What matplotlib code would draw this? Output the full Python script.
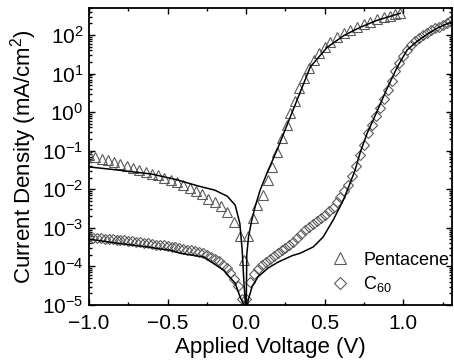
import matplotlib
matplotlib.use("Agg")
import matplotlib.pyplot as plt
from matplotlib.ticker import MultipleLocator, LogLocator, NullFormatter

plt.rcParams['font.family'] = ['Liberation Sans', 'DejaVu Sans']
plt.rcParams['mathtext.fontset'] = 'custom'
plt.rcParams['mathtext.rm'] = 'Liberation Sans'
plt.rcParams['mathtext.it'] = 'Liberation Sans:italic'
plt.rcParams['mathtext.bf'] = 'Liberation Sans:bold'

# pentacene, measured (triangles)
v_pen = [-1.00, -0.96, -0.92, -0.88, -0.84, -0.80, -0.76, -0.72, -0.68, -0.64,
         -0.60, -0.56, -0.52, -0.48, -0.44, -0.40, -0.36, -0.32, -0.28, -0.24,
         -0.20, -0.16, -0.12, -0.08, -0.04, -0.015,
         0.01, 0.045, 0.07, 0.108, 0.14, 0.166, 0.197, 0.229, 0.261, 0.28,
         0.312, 0.338, 0.369, 0.40, 0.433, 0.465, 0.503, 0.535, 0.58, 0.624,
         0.662, 0.707, 0.752, 0.79, 0.834, 0.879, 0.917, 0.949, 0.98]
j_pen = [7.7e-2, 7.0e-2, 6.2e-2, 5.6e-2, 5.0e-2, 4.5e-2, 4.0e-2, 3.6e-2, 3.2e-2, 2.8e-2,
         2.55e-2, 2.3e-2, 2.0e-2, 1.7e-2, 1.5e-2, 1.27e-2, 1.1e-2, 9.1e-3, 7.4e-3, 5.7e-3,
         4.7e-3, 3.6e-3, 2.5e-3, 1.4e-3, 6.2e-4, 1.5e-4,
         6.1e-4, 1.8e-3, 3.9e-3, 7.1e-3, 1.7e-2, 3.8e-2, 9.1e-2, 0.21, 0.46, 0.93,
         2.0, 4.2, 7.6, 13.8, 22, 34, 48, 65, 87, 111,
         133, 160, 190, 214, 256, 288, 307, 347, 365]

# pentacene, fit (line)
v_pen_fit = [-1.00, -0.80, -0.60, -0.45, -0.30, -0.20, -0.12, -0.07, -0.04, -0.025,
             -0.015, -0.005, 0.0, 0.004, 0.015, 0.036, 0.057, 0.089, 0.14, 0.197,
             0.306, 0.408, 0.516, 0.624, 0.726, 0.834, 0.98]
j_pen_fit = [3.8e-2, 3.1e-2, 2.47e-2, 1.8e-2, 1.2e-2, 9.5e-3, 6.6e-3, 3.9e-3, 1.3e-3, 2.6e-4,
             4.4e-5, 1.1e-5, 5e-6, 2.0e-4, 5.8e-4, 1.6e-3, 3.5e-3, 9.5e-3, 3.1e-2, 0.105,
             1.35, 14.8, 48, 98, 158, 240, 365]

# C60, measured (diamonds)
v_c60 = [-1.000, -0.975, -0.950, -0.925, -0.900, -0.875, -0.850, -0.825, -0.800, -0.775,
         -0.750, -0.725, -0.700, -0.675, -0.650, -0.625, -0.600, -0.575, -0.550, -0.525,
         -0.500, -0.475, -0.450, -0.425, -0.400, -0.375, -0.350, -0.325, -0.300, -0.275,
         -0.250, -0.225, -0.200, -0.175, -0.150, -0.125, -0.100, -0.075, -0.050, -0.025,
         0.000, 0.025, 0.050, 0.075, 0.100, 0.125, 0.150, 0.175, 0.200, 0.225,
         0.250, 0.275, 0.300, 0.325, 0.350, 0.375, 0.400, 0.425, 0.450, 0.475,
         0.500, 0.525, 0.550, 0.575, 0.600, 0.625, 0.650, 0.675, 0.700, 0.725,
         0.750, 0.775, 0.800, 0.825, 0.850, 0.875, 0.900, 0.925, 0.950, 0.975,
         1.000, 1.025, 1.050, 1.075, 1.100, 1.125, 1.150, 1.175, 1.200, 1.225,
         1.250, 1.275, 1.300]
j_c60 = [5.8e-4, 5.6e-4, 5.5e-4, 5.4e-4, 5.2e-4, 5.1e-4, 5.0e-4, 4.9e-4, 4.8e-4, 4.7e-4,
         4.6e-4, 4.5e-4, 4.4e-4, 4.3e-4, 4.1e-4, 4.0e-4, 3.85e-4, 3.7e-4, 3.6e-4, 3.5e-4,
         3.3e-4, 3.2e-4, 3.1e-4, 2.95e-4, 2.8e-4, 2.7e-4, 2.6e-4, 2.45e-4, 2.3e-4, 2.2e-4,
         2.0e-4, 1.8e-4, 1.6e-4, 1.4e-4, 1.1e-4, 8.9e-5, 6.6e-5, 4.8e-5, 3.2e-5, 1.4e-5,
         1.4e-5, 4.0e-5, 6.5e-5, 8.7e-5, 1.1e-4, 1.3e-4, 1.6e-4, 1.9e-4, 2.2e-4, 2.6e-4,
         3.0e-4, 3.5e-4, 4.4e-4, 5.4e-4, 6.8e-4, 8.7e-4, 1.05e-3, 1.26e-3, 1.55e-3, 1.8e-3,
         2.2e-3, 2.7e-3, 3.3e-3, 4.6e-3, 6.3e-3, 8.9e-3, 1.3e-2, 2.2e-2, 4.0e-2, 7.6e-2,
         0.14, 0.28, 0.47, 0.78, 1.3, 2.2, 3.8, 6.6, 11.5, 18.6,
         28, 41, 55, 68, 81, 98, 115, 132, 148, 162,
         182, 204, 224]

# C60, fit (line)
v_c60_fit = [-1.00, -0.84, -0.63, -0.48, -0.42, -0.27, -0.23, -0.146, -0.07, -0.038,
             -0.019, -0.005, 0.0, 0.013, 0.038, 0.076, 0.14, 0.204, 0.293, 0.344,
             0.427, 0.49, 0.554, 0.618, 0.662, 0.694, 0.726, 0.771, 0.822, 0.898,
             0.962, 1.025, 1.089, 1.153, 1.217, 1.30]
j_c60_fit = [5.1e-4, 4.1e-4, 3.2e-4, 2.6e-4, 2.2e-4, 1.75e-4, 1.37e-4, 8.1e-5, 3.7e-5, 1.6e-5,
             1.1e-5, 5e-6, 5e-6, 1.35e-5, 3.0e-5, 5.4e-5, 9.1e-5, 1.3e-4, 1.9e-4, 2.2e-4,
             3.2e-4, 5.8e-4, 1.6e-3, 5.2e-3, 1.45e-2, 3.2e-2, 9.1e-2, 0.29, 0.83, 4.2,
             14.8, 41, 69, 105, 151, 214]

fig = plt.figure(figsize=(4.54, 3.64), dpi=100)
ax = fig.add_axes([89/454, 59/364, 363/454, 297/364])

mk_col = "#5a5a5a"
ax.plot(v_pen_fit, j_pen_fit, color="k", lw=1.1, zorder=3)
ax.plot(v_c60_fit, j_c60_fit, color="k", lw=1.1, zorder=3)
ax.plot(v_pen, j_pen, linestyle="none", marker="^", ms=6.5, mfc="none",
        mec=mk_col, mew=0.8, label="Pentacene", zorder=2)
ax.plot(v_c60, j_c60, linestyle="none", marker="D", ms=4.8, mfc="none",
        mec=mk_col, mew=0.8, label="C$_{60}$", zorder=2)

ax.set_yscale("log")
ax.set_xlim(-1.0, 1.31)
ax.set_ylim(1e-5, 5e2)

ax.xaxis.set_major_locator(MultipleLocator(0.5))
ax.xaxis.set_minor_locator(MultipleLocator(0.25))
ax.yaxis.set_major_locator(LogLocator(base=10, numticks=20))
ax.yaxis.set_minor_locator(LogLocator(base=10, subs=range(2, 10), numticks=20))
ax.yaxis.set_minor_formatter(NullFormatter())

ax.tick_params(which="both", direction="in", top=True, right=True, width=1.0)
ax.tick_params(which="major", length=4.5, labelsize=15)
ax.tick_params(axis="x", which="major", pad=6.5)
ax.tick_params(axis="y", which="major", pad=4)
ax.tick_params(which="minor", length=2.5)
for s in ax.spines.values():
    s.set_linewidth(1.3)

ax.set_xlabel("Applied Voltage (V)", fontsize=16, labelpad=3)
ax.set_ylabel("Current Density (mA/cm$^{2}$)", fontsize=16, labelpad=2)

ax.legend(loc="lower right", frameon=False, fontsize=13, handletextpad=0.3,
          borderaxespad=0.2, labelspacing=0.3, markerscale=1.3,
          bbox_to_anchor=(1.022, 0.0))

fig.savefig("out.png", dpi=100)
